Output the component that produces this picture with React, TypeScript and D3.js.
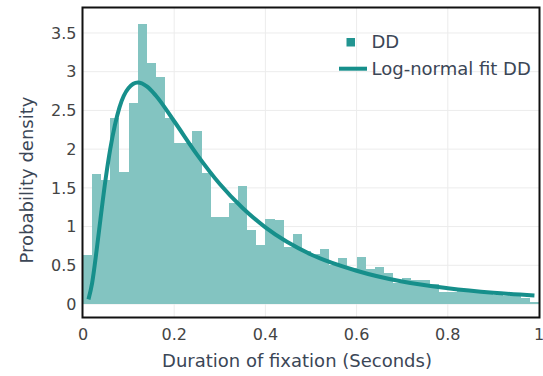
import React from "react";
import * as d3 from "d3";

// Histogram: bins of width 0.02 from 0 to 1
const binStarts = d3.range(0, 50).map((i) => i * 0.02);
const binWidth = 0.02;
const densityDD = [
  0.63, 1.68, 1.6, 2.4, 1.7, 2.6, 3.61, 3.11, 2.93, 2.4,
  2.08, 2.08, 2.23, 1.69, 1.12, 1.12, 1.3, 1.52, 0.96, 0.76,
  1.1, 1.08, 0.74, 0.91, 0.68, 0.64, 0.71, 0.51, 0.59, 0.46,
  0.61, 0.45, 0.48, 0.4, 0.27, 0.33, 0.31, 0.31, 0.26, 0.15,
  0.16, 0.17, 0.15, 0.15, 0.13, 0.12, 0.11, 0.11, 0.08, 0.02,
];

// Log-normal fit curve
const fitX = [0.012, 0.02, 0.03, 0.04, 0.05, 0.06, 0.08, 0.1, 0.12, 0.14, 0.16, 0.2, 0.25, 0.3, 0.35, 0.4, 0.5, 0.6, 0.7, 0.8, 0.9, 0.99];
const fitY = [0.06, 0.27, 0.7, 1.18, 1.63, 2.01, 2.54, 2.79, 2.86, 2.81, 2.69, 2.36, 1.93, 1.55, 1.24, 0.99, 0.64, 0.43, 0.29, 0.205, 0.146, 0.11];

const xTicks = [0, 0.2, 0.4, 0.6, 0.8, 1];
const yTicks = [0, 0.5, 1, 1.5, 2, 2.5, 3, 3.5];

const seriesNames = ["DD", "Log-normal fit DD"];
const xTitle = "Duration of fixation (Seconds)";
const yTitle = "Probability density";

const W = 543;
const H = 376;
const left = 83;
const right = 539;
const top = 7.5;
const bottom = 317.5;

const barColor = "#83c4c1";
const lineColor = "#168f8b";
const font = "'DejaVu Sans', Verdana, sans-serif";

export default function App() {
  const x = d3.scaleLinear().domain([0, 1]).range([left, right]);
  const y = d3.scaleLinear().domain([-0.174, 3.829]).range([bottom, top]);

  const line = d3
    .line<number>()
    .x((_, i) => x(fitX[i]))
    .y((d) => y(d))
    .curve(d3.curveMonotoneX);

  return (
    <div style={{ position: "absolute", left: 0, top: 0 }}>
      <svg width={W} height={H} style={{ display: "block", background: "#fff" }}>
        {/* grid */}
        {xTicks.slice(1, -1).map((t) => (
          <line key={"gx" + t} x1={x(t)} x2={x(t)} y1={top} y2={bottom} stroke="#ececec" strokeWidth={1} />
        ))}
        {yTicks.map((t) => (
          <line key={"gy" + t} x1={left} x2={right} y1={y(t)} y2={y(t)} stroke="#ececec" strokeWidth={1} />
        ))}
        {/* bars */}
        {densityDD.map((v, i) => (
          <rect
            key={"b" + i}
            x={x(binStarts[i])}
            y={y(v)}
            width={x(binStarts[i] + binWidth) - x(binStarts[i])}
            height={y(0) - y(v)}
            fill={barColor}
            shapeRendering="crispEdges"
          />
        ))}
        {/* fit */}
        <path d={line(fitY) || ""} fill="none" stroke={lineColor} strokeWidth={4} strokeLinecap="butt" />
        {/* frame */}
        <rect x={left - 0.5} y={top} width={right - left + 1} height={bottom - top} fill="none" stroke="#111" strokeWidth={2} />
        {/* x ticks */}
        {xTicks.map((t) => (
          <text key={"tx" + t} x={x(t)} y={340} textAnchor="middle" fontFamily={font} fontSize={16} fill="#444">
            {String(t)}
          </text>
        ))}
        {yTicks.map((t) => (
          <text key={"ty" + t} x={76.5} y={y(t) + 5.8} textAnchor="end" fontFamily={font} fontSize={16} fill="#444">
            {String(t)}
          </text>
        ))}
        <text x={297} y={366.5} textAnchor="middle" fontFamily={font} fontSize={18} fill="#3b4656">
          {xTitle}
        </text>
        <text
          transform={`translate(33,180) rotate(-90)`}
          textAnchor="middle"
          fontFamily={font}
          fontSize={18}
          fill="#3b4656"
        >
          {yTitle}
        </text>
        {/* legend */}
        <rect x={346.5} y={38} width={8.5} height={8.5} fill={lineColor} opacity={0.95} />
        <text x={371.5} y={48.3} fontFamily={font} fontSize={18} fill="#3b4656">
          {seriesNames[0]}
        </text>
        <line x1={339} x2={367} y1={68.7} y2={68.7} stroke={lineColor} strokeWidth={4} />
        <text x={371.5} y={75} fontFamily={font} fontSize={18} fill="#3b4656">
          {seriesNames[1]}
        </text>
      </svg>
    </div>
  );
}
